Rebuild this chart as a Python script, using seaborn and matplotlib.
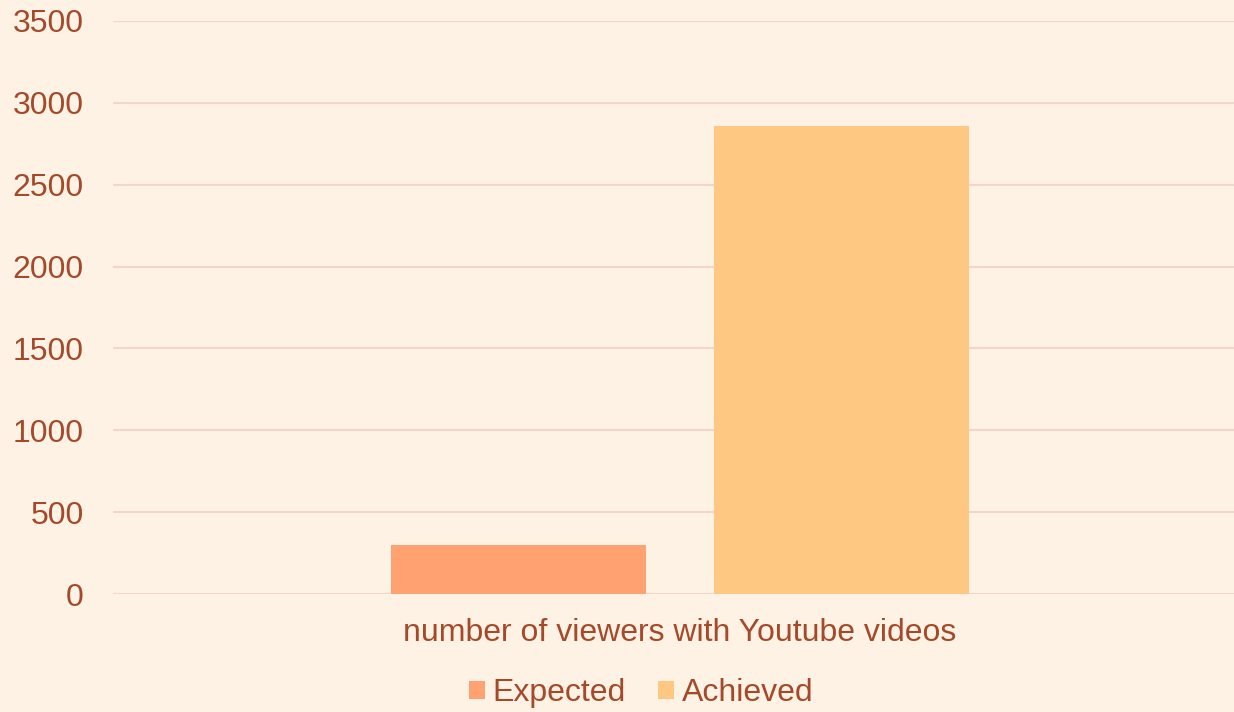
import matplotlib
matplotlib.use("Agg")
import matplotlib.pyplot as plt
import seaborn as sns
import pandas as pd
from matplotlib.patches import Patch

categories = ["number of viewers with Youtube videos"]
series = ["Expected", "Achieved"]
expected = [300]
achieved = [2860]
yticks = [0, 500, 1000, 1500, 2000, 2500, 3000, 3500]

bg = "#FEF2E4"
text_c = "#A4492A"
grid_c = "#F3D6C9"
colors = ["#FFA171", "#FFC882"]

rows = []
for i, c in enumerate(categories):
    rows.append({"cat": c, "series": "Expected", "value": expected[i]})
    rows.append({"cat": c, "series": "Achieved", "value": achieved[i]})
df = pd.DataFrame(rows)

sns.set_theme(style="white")
plt.rcParams['font.family'] = ['Liberation Sans', 'DejaVu Sans']

fs = 23

fig = plt.figure(figsize=(12.34, 7.12), dpi=100, facecolor=bg)
ax = fig.add_axes([113/1234, 1 - 594/712, 1 - 113/1234, (594 - 21)/712])
ax.set_facecolor(bg)

sns.barplot(data=df, x="cat", y="value", hue="series", hue_order=series,
            palette=colors, width=0.8, gap=0.213, ax=ax, legend=False,
            saturation=1, zorder=3, edgecolor="none", linewidth=0)

ax.set_ylim(0, 3500)
ax.set_xlim(-0.701, 0.685)
ax.set_yticks(yticks)
ax.set_yticklabels([str(t) for t in yticks])
ax.yaxis.grid(True, color=grid_c, linewidth=1.5, zorder=0)
ax.set_axisbelow(True)
for s in ax.spines.values():
    s.set_visible(False)
ax.tick_params(axis="both", length=0, labelsize=fs, colors=text_c)
ax.tick_params(axis="y", pad=21)
ax.tick_params(axis="x", pad=17)
ax.set_xlabel("")
ax.set_ylabel("")

handles = [Patch(facecolor=colors[0], edgecolor="none", label="Expected"),
           Patch(facecolor=colors[1], edgecolor="none", label="Achieved")]
leg = fig.legend(handles=handles, loc="center", bbox_to_anchor=(641/1234, 1 - 693/712),
                 ncol=2, frameon=False, fontsize=fs, handlelength=0.5, handleheight=0.5,
                 handletextpad=0.25, columnspacing=1.0, borderaxespad=0)
for t in leg.get_texts():
    t.set_color(text_c)

fig.savefig("out.png", dpi=100, facecolor=bg)
